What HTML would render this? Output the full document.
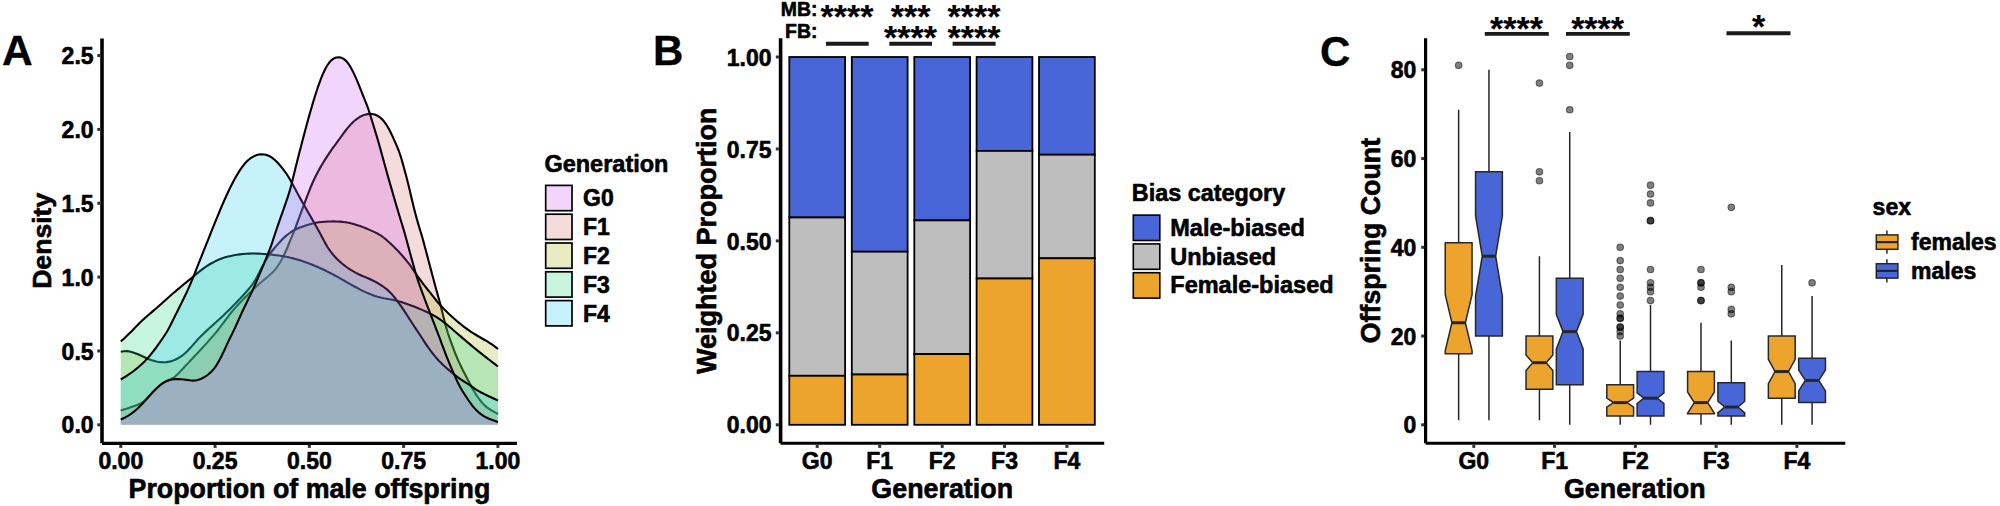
<!DOCTYPE html>
<html lang="en"><head><meta charset="utf-8"><title>Figure</title>
<style>html,body{margin:0;padding:0;background:#fff}svg{display:block}text{stroke:#000;stroke-width:0.6px;stroke-linejoin:round}text.st{stroke-width:0.2px}text.tag{stroke-width:0.3px}</style></head>
<body>
<svg width="2000" height="506" viewBox="0 0 2000 506" font-family="'Liberation Sans', sans-serif" font-weight="bold" fill="#000">
<rect width="2000" height="506" fill="#fff"/>
<g id="panelA">
<path d="M120.80 410.50 L123.66 409.59 L126.51 408.66 L129.36 407.72 L132.21 406.77 L135.04 405.80 L137.85 404.76 L140.56 403.53 L143.10 402.01 L145.41 400.16 L147.50 398.05 L149.49 395.81 L151.49 393.58 L153.54 391.39 L155.64 389.26 L157.82 387.20 L160.10 385.27 L162.50 383.48 L165.02 381.88 L167.65 380.52 L170.36 379.33 L172.97 378.00 L175.36 376.31 L177.55 374.30 L179.64 372.16 L181.69 369.97 L183.73 367.77 L185.77 365.57 L187.81 363.37 L189.85 361.17 L191.90 358.98 L193.96 356.80 L196.02 354.62 L198.08 352.44 L200.14 350.25 L202.18 348.06 L204.21 345.85 L206.23 343.63 L208.23 341.40 L210.22 339.15 L212.20 336.90 L214.15 334.62 L216.07 332.31 L217.96 329.99 L219.82 327.63 L221.63 325.24 L223.42 322.83 L225.21 320.42 L227.00 318.02 L228.81 315.63 L230.66 313.26 L232.55 310.94 L234.50 308.65 L236.49 306.41 L238.53 304.21 L240.59 302.04 L242.69 299.89 L244.80 297.76 L246.94 295.65 L249.08 293.56 L251.24 291.47 L253.40 289.39 L255.57 287.32 L257.76 285.27 L259.98 283.26 L262.25 281.29 L264.55 279.37 L266.86 277.46 L269.16 275.53 L271.39 273.53 L273.51 271.42 L275.47 269.17 L277.27 266.78 L278.92 264.29 L280.45 261.71 L281.88 259.08 L283.26 256.41 L284.60 253.73 L285.89 251.02 L287.10 248.28 L288.24 245.51 L289.35 242.72 L290.48 239.94 L291.63 237.17 L292.78 234.40 L293.92 231.62 L295.01 228.83 L296.07 226.03 L297.11 223.21 L298.13 220.39 L299.17 217.57 L300.21 214.76 L301.25 211.95 L302.30 209.14 L303.36 206.33 L304.42 203.52 L305.48 200.72 L306.54 197.91 L307.59 195.10 L308.66 192.30 L309.75 189.51 L310.88 186.73 L312.06 183.97 L313.28 181.23 L314.56 178.52 L315.88 175.82 L317.24 173.15 L318.65 170.50 L320.11 167.88 L321.61 165.28 L323.15 162.71 L324.73 160.16 L326.34 157.63 L327.97 155.11 L329.63 152.61 L331.32 150.14 L333.06 147.69 L334.83 145.27 L336.61 142.86 L338.38 140.43 L340.14 138.00 L341.89 135.57 L343.66 133.14 L345.47 130.76 L347.34 128.41 L349.26 126.11 L351.27 123.89 L353.38 121.77 L355.63 119.81 L358.04 118.04 L360.60 116.52 L363.30 115.29 L366.12 114.38 L369.02 113.88 L371.93 113.91 L374.77 114.54 L377.45 115.72 L379.92 117.33 L382.12 119.31 L384.08 121.55 L385.83 123.96 L387.44 126.49 L388.92 129.09 L390.32 131.74 L391.65 134.43 L392.91 137.15 L394.13 139.89 L395.33 142.64 L396.52 145.39 L397.68 148.16 L398.80 150.94 L399.83 153.76 L400.79 156.60 L401.66 159.47 L402.47 162.35 L403.26 165.25 L404.05 168.14 L404.83 171.04 L405.62 173.93 L406.39 176.83 L407.15 179.73 L407.89 182.64 L408.61 185.56 L409.30 188.47 L409.99 191.39 L410.67 194.32 L411.35 197.24 L412.05 200.16 L412.75 203.07 L413.46 205.99 L414.19 208.90 L414.92 211.81 L415.68 214.71 L416.45 217.61 L417.25 220.50 L418.07 223.38 L418.92 226.26 L419.79 229.13 L420.69 231.99 L421.57 234.85 L422.40 237.73 L423.20 240.62 L423.98 243.52 L424.76 246.42 L425.53 249.32 L426.30 252.22 L427.07 255.12 L427.84 258.02 L428.60 260.92 L429.37 263.82 L430.14 266.72 L430.91 269.62 L431.68 272.52 L432.45 275.42 L433.22 278.32 L433.99 281.21 L434.77 284.11 L435.55 287.01 L436.34 289.90 L437.15 292.79 L437.96 295.68 L438.77 298.57 L439.56 301.46 L440.33 304.36 L441.07 307.27 L441.80 310.18 L442.52 313.09 L443.24 316.00 L443.98 318.91 L444.73 321.82 L445.48 324.72 L446.27 327.61 L447.10 330.49 L447.99 333.36 L448.94 336.20 L449.92 339.04 L450.93 341.86 L451.95 344.68 L453.00 347.49 L454.07 350.30 L455.16 353.09 L456.29 355.87 L457.45 358.64 L458.66 361.38 L459.91 364.11 L461.20 366.81 L462.53 369.50 L463.89 372.18 L465.27 374.84 L466.65 377.50 L468.04 380.17 L469.41 382.83 L470.79 385.50 L472.19 388.15 L473.68 390.75 L475.26 393.30 L476.91 395.80 L478.62 398.26 L480.41 400.66 L482.32 402.97 L484.38 405.12 L486.63 407.08 L489.05 408.82 L491.58 410.38 L494.12 411.82 L496.50 413.16 L498.00 414.00 L498.00 424.80 L120.80 424.80 Z" fill="rgb(220,110,113)" fill-opacity="0.2457" stroke="none"/>
<path d="M120.80 410.50 L123.66 409.59 L126.51 408.66 L129.36 407.72 L132.21 406.77 L135.04 405.80 L137.85 404.76 L140.56 403.53 L143.10 402.01 L145.41 400.16 L147.50 398.05 L149.49 395.81 L151.49 393.58 L153.54 391.39 L155.64 389.26 L157.82 387.20 L160.10 385.27 L162.50 383.48 L165.02 381.88 L167.65 380.52 L170.36 379.33 L172.97 378.00 L175.36 376.31 L177.55 374.30 L179.64 372.16 L181.69 369.97 L183.73 367.77 L185.77 365.57 L187.81 363.37 L189.85 361.17 L191.90 358.98 L193.96 356.80 L196.02 354.62 L198.08 352.44 L200.14 350.25 L202.18 348.06 L204.21 345.85 L206.23 343.63 L208.23 341.40 L210.22 339.15 L212.20 336.90 L214.15 334.62 L216.07 332.31 L217.96 329.99 L219.82 327.63 L221.63 325.24 L223.42 322.83 L225.21 320.42 L227.00 318.02 L228.81 315.63 L230.66 313.26 L232.55 310.94 L234.50 308.65 L236.49 306.41 L238.53 304.21 L240.59 302.04 L242.69 299.89 L244.80 297.76 L246.94 295.65 L249.08 293.56 L251.24 291.47 L253.40 289.39 L255.57 287.32 L257.76 285.27 L259.98 283.26 L262.25 281.29 L264.55 279.37 L266.86 277.46 L269.16 275.53 L271.39 273.53 L273.51 271.42 L275.47 269.17 L277.27 266.78 L278.92 264.29 L280.45 261.71 L281.88 259.08 L283.26 256.41 L284.60 253.73 L285.89 251.02 L287.10 248.28 L288.24 245.51 L289.35 242.72 L290.48 239.94 L291.63 237.17 L292.78 234.40 L293.92 231.62 L295.01 228.83 L296.07 226.03 L297.11 223.21 L298.13 220.39 L299.17 217.57 L300.21 214.76 L301.25 211.95 L302.30 209.14 L303.36 206.33 L304.42 203.52 L305.48 200.72 L306.54 197.91 L307.59 195.10 L308.66 192.30 L309.75 189.51 L310.88 186.73 L312.06 183.97 L313.28 181.23 L314.56 178.52 L315.88 175.82 L317.24 173.15 L318.65 170.50 L320.11 167.88 L321.61 165.28 L323.15 162.71 L324.73 160.16 L326.34 157.63 L327.97 155.11 L329.63 152.61 L331.32 150.14 L333.06 147.69 L334.83 145.27 L336.61 142.86 L338.38 140.43 L340.14 138.00 L341.89 135.57 L343.66 133.14 L345.47 130.76 L347.34 128.41 L349.26 126.11 L351.27 123.89 L353.38 121.77 L355.63 119.81 L358.04 118.04 L360.60 116.52 L363.30 115.29 L366.12 114.38 L369.02 113.88 L371.93 113.91 L374.77 114.54 L377.45 115.72 L379.92 117.33 L382.12 119.31 L384.08 121.55 L385.83 123.96 L387.44 126.49 L388.92 129.09 L390.32 131.74 L391.65 134.43 L392.91 137.15 L394.13 139.89 L395.33 142.64 L396.52 145.39 L397.68 148.16 L398.80 150.94 L399.83 153.76 L400.79 156.60 L401.66 159.47 L402.47 162.35 L403.26 165.25 L404.05 168.14 L404.83 171.04 L405.62 173.93 L406.39 176.83 L407.15 179.73 L407.89 182.64 L408.61 185.56 L409.30 188.47 L409.99 191.39 L410.67 194.32 L411.35 197.24 L412.05 200.16 L412.75 203.07 L413.46 205.99 L414.19 208.90 L414.92 211.81 L415.68 214.71 L416.45 217.61 L417.25 220.50 L418.07 223.38 L418.92 226.26 L419.79 229.13 L420.69 231.99 L421.57 234.85 L422.40 237.73 L423.20 240.62 L423.98 243.52 L424.76 246.42 L425.53 249.32 L426.30 252.22 L427.07 255.12 L427.84 258.02 L428.60 260.92 L429.37 263.82 L430.14 266.72 L430.91 269.62 L431.68 272.52 L432.45 275.42 L433.22 278.32 L433.99 281.21 L434.77 284.11 L435.55 287.01 L436.34 289.90 L437.15 292.79 L437.96 295.68 L438.77 298.57 L439.56 301.46 L440.33 304.36 L441.07 307.27 L441.80 310.18 L442.52 313.09 L443.24 316.00 L443.98 318.91 L444.73 321.82 L445.48 324.72 L446.27 327.61 L447.10 330.49 L447.99 333.36 L448.94 336.20 L449.92 339.04 L450.93 341.86 L451.95 344.68 L453.00 347.49 L454.07 350.30 L455.16 353.09 L456.29 355.87 L457.45 358.64 L458.66 361.38 L459.91 364.11 L461.20 366.81 L462.53 369.50 L463.89 372.18 L465.27 374.84 L466.65 377.50 L468.04 380.17 L469.41 382.83 L470.79 385.50 L472.19 388.15 L473.68 390.75 L475.26 393.30 L476.91 395.80 L478.62 398.26 L480.41 400.66 L482.32 402.97 L484.38 405.12 L486.63 407.08 L489.05 408.82 L491.58 410.38 L494.12 411.82 L496.50 413.16 L498.00 414.00" fill="none" stroke="#000" stroke-width="2.1" stroke-linejoin="round"/>
<path d="M120.80 351.80 L123.73 351.31 L126.66 351.14 L129.58 351.46 L132.45 352.19 L135.28 353.16 L138.06 354.26 L140.81 355.47 L143.51 356.75 L146.22 358.04 L148.96 359.22 L151.78 360.24 L154.65 361.09 L157.56 361.75 L160.51 362.17 L163.49 362.30 L166.46 362.14 L169.40 361.66 L172.27 360.88 L175.05 359.80 L177.72 358.48 L180.28 356.94 L182.71 355.20 L185.01 353.29 L187.18 351.24 L189.26 349.08 L191.28 346.86 L193.26 344.61 L195.21 342.33 L197.18 340.07 L199.22 337.87 L201.33 335.75 L203.49 333.67 L205.69 331.63 L207.90 329.60 L210.12 327.58 L212.34 325.56 L214.56 323.55 L216.77 321.52 L218.98 319.50 L221.19 317.46 L223.37 315.41 L225.55 313.34 L227.70 311.25 L229.84 309.14 L231.95 307.02 L234.06 304.88 L236.15 302.73 L238.23 300.57 L240.29 298.39 L242.34 296.20 L244.36 293.98 L246.36 291.74 L248.31 289.47 L250.22 287.15 L252.05 284.78 L253.78 282.33 L255.38 279.81 L256.86 277.20 L258.24 274.54 L259.57 271.85 L260.92 269.18 L262.33 266.53 L263.79 263.91 L265.28 261.31 L266.80 258.72 L268.38 256.17 L270.03 253.67 L271.81 251.27 L273.71 248.96 L275.67 246.68 L277.64 244.42 L279.63 242.18 L281.66 239.97 L283.77 237.85 L285.99 235.85 L288.33 233.99 L290.78 232.25 L293.30 230.65 L295.93 229.23 L298.66 228.00 L301.45 226.93 L304.29 225.98 L307.15 225.08 L310.02 224.21 L312.91 223.42 L315.83 222.78 L318.79 222.31 L321.77 221.98 L324.76 221.73 L327.75 221.55 L330.75 221.43 L333.74 221.40 L336.74 221.47 L339.73 221.64 L342.72 221.92 L345.69 222.31 L348.64 222.82 L351.56 223.47 L354.46 224.25 L357.32 225.14 L360.16 226.10 L362.97 227.13 L365.77 228.23 L368.53 229.39 L371.28 230.60 L374.00 231.85 L376.69 233.18 L379.30 234.63 L381.82 236.24 L384.23 238.01 L386.54 239.92 L388.78 241.91 L390.98 243.95 L393.15 246.02 L395.29 248.13 L397.39 250.27 L399.44 252.45 L401.45 254.68 L403.42 256.94 L405.35 259.24 L407.25 261.56 L409.10 263.92 L410.88 266.33 L412.58 268.80 L414.24 271.30 L415.91 273.79 L417.62 276.25 L419.36 278.70 L421.13 281.12 L422.92 283.53 L424.74 285.91 L426.59 288.27 L428.46 290.62 L430.34 292.96 L432.21 295.30 L434.07 297.65 L435.93 300.00 L437.82 302.33 L439.77 304.62 L441.78 306.83 L443.87 308.99 L446.01 311.09 L448.19 313.15 L450.38 315.20 L452.60 317.22 L454.83 319.22 L457.10 321.18 L459.40 323.11 L461.74 324.99 L464.11 326.82 L466.52 328.61 L468.96 330.35 L471.44 332.04 L473.95 333.67 L476.51 335.24 L479.09 336.76 L481.70 338.24 L484.32 339.71 L486.91 341.21 L489.47 342.78 L491.95 344.44 L494.33 346.17 L496.57 347.88 L498.00 349.00 L498.00 424.80 L120.80 424.80 Z" fill="rgb(161,175,13)" fill-opacity="0.2457" stroke="none"/>
<path d="M120.80 351.80 L123.73 351.31 L126.66 351.14 L129.58 351.46 L132.45 352.19 L135.28 353.16 L138.06 354.26 L140.81 355.47 L143.51 356.75 L146.22 358.04 L148.96 359.22 L151.78 360.24 L154.65 361.09 L157.56 361.75 L160.51 362.17 L163.49 362.30 L166.46 362.14 L169.40 361.66 L172.27 360.88 L175.05 359.80 L177.72 358.48 L180.28 356.94 L182.71 355.20 L185.01 353.29 L187.18 351.24 L189.26 349.08 L191.28 346.86 L193.26 344.61 L195.21 342.33 L197.18 340.07 L199.22 337.87 L201.33 335.75 L203.49 333.67 L205.69 331.63 L207.90 329.60 L210.12 327.58 L212.34 325.56 L214.56 323.55 L216.77 321.52 L218.98 319.50 L221.19 317.46 L223.37 315.41 L225.55 313.34 L227.70 311.25 L229.84 309.14 L231.95 307.02 L234.06 304.88 L236.15 302.73 L238.23 300.57 L240.29 298.39 L242.34 296.20 L244.36 293.98 L246.36 291.74 L248.31 289.47 L250.22 287.15 L252.05 284.78 L253.78 282.33 L255.38 279.81 L256.86 277.20 L258.24 274.54 L259.57 271.85 L260.92 269.18 L262.33 266.53 L263.79 263.91 L265.28 261.31 L266.80 258.72 L268.38 256.17 L270.03 253.67 L271.81 251.27 L273.71 248.96 L275.67 246.68 L277.64 244.42 L279.63 242.18 L281.66 239.97 L283.77 237.85 L285.99 235.85 L288.33 233.99 L290.78 232.25 L293.30 230.65 L295.93 229.23 L298.66 228.00 L301.45 226.93 L304.29 225.98 L307.15 225.08 L310.02 224.21 L312.91 223.42 L315.83 222.78 L318.79 222.31 L321.77 221.98 L324.76 221.73 L327.75 221.55 L330.75 221.43 L333.74 221.40 L336.74 221.47 L339.73 221.64 L342.72 221.92 L345.69 222.31 L348.64 222.82 L351.56 223.47 L354.46 224.25 L357.32 225.14 L360.16 226.10 L362.97 227.13 L365.77 228.23 L368.53 229.39 L371.28 230.60 L374.00 231.85 L376.69 233.18 L379.30 234.63 L381.82 236.24 L384.23 238.01 L386.54 239.92 L388.78 241.91 L390.98 243.95 L393.15 246.02 L395.29 248.13 L397.39 250.27 L399.44 252.45 L401.45 254.68 L403.42 256.94 L405.35 259.24 L407.25 261.56 L409.10 263.92 L410.88 266.33 L412.58 268.80 L414.24 271.30 L415.91 273.79 L417.62 276.25 L419.36 278.70 L421.13 281.12 L422.92 283.53 L424.74 285.91 L426.59 288.27 L428.46 290.62 L430.34 292.96 L432.21 295.30 L434.07 297.65 L435.93 300.00 L437.82 302.33 L439.77 304.62 L441.78 306.83 L443.87 308.99 L446.01 311.09 L448.19 313.15 L450.38 315.20 L452.60 317.22 L454.83 319.22 L457.10 321.18 L459.40 323.11 L461.74 324.99 L464.11 326.82 L466.52 328.61 L468.96 330.35 L471.44 332.04 L473.95 333.67 L476.51 335.24 L479.09 336.76 L481.70 338.24 L484.32 339.71 L486.91 341.21 L489.47 342.78 L491.95 344.44 L494.33 346.17 L496.57 347.88 L498.00 349.00" fill="none" stroke="#000" stroke-width="2.1" stroke-linejoin="round"/>
<path d="M120.80 341.50 L122.99 339.45 L125.18 337.40 L127.37 335.35 L129.55 333.29 L131.70 331.20 L133.79 329.05 L135.84 326.86 L137.90 324.69 L140.02 322.58 L142.22 320.53 L144.45 318.53 L146.71 316.55 L148.97 314.58 L151.23 312.61 L153.50 310.65 L155.77 308.68 L158.03 306.71 L160.28 304.73 L162.52 302.73 L164.75 300.72 L166.97 298.71 L169.21 296.72 L171.47 294.75 L173.75 292.79 L176.04 290.85 L178.33 288.91 L180.63 286.99 L182.93 285.06 L185.24 283.15 L187.56 281.24 L189.88 279.34 L192.20 277.45 L194.53 275.55 L196.84 273.64 L199.16 271.74 L201.50 269.87 L203.90 268.07 L206.36 266.36 L208.89 264.76 L211.48 263.24 L214.12 261.82 L216.81 260.50 L219.55 259.30 L222.35 258.25 L225.21 257.35 L228.10 256.58 L231.03 255.92 L233.97 255.34 L236.93 254.83 L239.89 254.39 L242.87 254.03 L245.86 253.77 L248.85 253.61 L251.85 253.54 L254.84 253.56 L257.84 253.65 L260.84 253.80 L263.83 253.99 L266.82 254.23 L269.81 254.51 L272.79 254.83 L275.77 255.19 L278.74 255.58 L281.71 256.03 L284.67 256.52 L287.61 257.07 L290.55 257.69 L293.46 258.39 L296.35 259.18 L299.22 260.06 L302.07 261.00 L304.90 261.99 L307.72 263.01 L310.53 264.07 L313.32 265.18 L316.09 266.33 L318.84 267.52 L321.57 268.76 L324.28 270.04 L326.97 271.36 L329.65 272.71 L332.31 274.10 L334.96 275.51 L337.59 276.95 L340.21 278.42 L342.81 279.90 L345.42 281.40 L348.02 282.88 L350.64 284.35 L353.26 285.81 L355.88 287.27 L358.52 288.70 L361.17 290.09 L363.87 291.40 L366.60 292.64 L369.36 293.81 L372.16 294.89 L374.98 295.89 L377.84 296.79 L380.73 297.58 L383.65 298.24 L386.60 298.80 L389.55 299.31 L392.50 299.85 L395.43 300.47 L398.34 301.20 L401.22 302.04 L404.07 302.96 L406.91 303.93 L409.74 304.93 L412.55 305.98 L415.34 307.08 L418.11 308.22 L420.88 309.39 L423.63 310.59 L426.36 311.82 L429.07 313.11 L431.74 314.46 L434.37 315.90 L436.95 317.43 L439.47 319.05 L441.93 320.76 L444.33 322.56 L446.67 324.44 L448.96 326.37 L451.23 328.33 L453.50 330.29 L455.78 332.25 L458.06 334.20 L460.34 336.14 L462.62 338.09 L464.91 340.03 L467.19 341.98 L469.48 343.92 L471.78 345.85 L474.08 347.77 L476.40 349.67 L478.73 351.56 L481.07 353.43 L483.43 355.29 L485.80 357.13 L488.18 358.96 L490.56 360.78 L492.92 362.59 L495.19 364.34 L497.32 365.97 L498.00 366.50 L498.00 424.80 L120.80 424.80 Z" fill="rgb(29,214,129)" fill-opacity="0.2457" stroke="none"/>
<path d="M120.80 341.50 L122.99 339.45 L125.18 337.40 L127.37 335.35 L129.55 333.29 L131.70 331.20 L133.79 329.05 L135.84 326.86 L137.90 324.69 L140.02 322.58 L142.22 320.53 L144.45 318.53 L146.71 316.55 L148.97 314.58 L151.23 312.61 L153.50 310.65 L155.77 308.68 L158.03 306.71 L160.28 304.73 L162.52 302.73 L164.75 300.72 L166.97 298.71 L169.21 296.72 L171.47 294.75 L173.75 292.79 L176.04 290.85 L178.33 288.91 L180.63 286.99 L182.93 285.06 L185.24 283.15 L187.56 281.24 L189.88 279.34 L192.20 277.45 L194.53 275.55 L196.84 273.64 L199.16 271.74 L201.50 269.87 L203.90 268.07 L206.36 266.36 L208.89 264.76 L211.48 263.24 L214.12 261.82 L216.81 260.50 L219.55 259.30 L222.35 258.25 L225.21 257.35 L228.10 256.58 L231.03 255.92 L233.97 255.34 L236.93 254.83 L239.89 254.39 L242.87 254.03 L245.86 253.77 L248.85 253.61 L251.85 253.54 L254.84 253.56 L257.84 253.65 L260.84 253.80 L263.83 253.99 L266.82 254.23 L269.81 254.51 L272.79 254.83 L275.77 255.19 L278.74 255.58 L281.71 256.03 L284.67 256.52 L287.61 257.07 L290.55 257.69 L293.46 258.39 L296.35 259.18 L299.22 260.06 L302.07 261.00 L304.90 261.99 L307.72 263.01 L310.53 264.07 L313.32 265.18 L316.09 266.33 L318.84 267.52 L321.57 268.76 L324.28 270.04 L326.97 271.36 L329.65 272.71 L332.31 274.10 L334.96 275.51 L337.59 276.95 L340.21 278.42 L342.81 279.90 L345.42 281.40 L348.02 282.88 L350.64 284.35 L353.26 285.81 L355.88 287.27 L358.52 288.70 L361.17 290.09 L363.87 291.40 L366.60 292.64 L369.36 293.81 L372.16 294.89 L374.98 295.89 L377.84 296.79 L380.73 297.58 L383.65 298.24 L386.60 298.80 L389.55 299.31 L392.50 299.85 L395.43 300.47 L398.34 301.20 L401.22 302.04 L404.07 302.96 L406.91 303.93 L409.74 304.93 L412.55 305.98 L415.34 307.08 L418.11 308.22 L420.88 309.39 L423.63 310.59 L426.36 311.82 L429.07 313.11 L431.74 314.46 L434.37 315.90 L436.95 317.43 L439.47 319.05 L441.93 320.76 L444.33 322.56 L446.67 324.44 L448.96 326.37 L451.23 328.33 L453.50 330.29 L455.78 332.25 L458.06 334.20 L460.34 336.14 L462.62 338.09 L464.91 340.03 L467.19 341.98 L469.48 343.92 L471.78 345.85 L474.08 347.77 L476.40 349.67 L478.73 351.56 L481.07 353.43 L483.43 355.29 L485.80 357.13 L488.18 358.96 L490.56 360.78 L492.92 362.59 L495.19 364.34 L497.32 365.97 L498.00 366.50" fill="none" stroke="#000" stroke-width="2.1" stroke-linejoin="round"/>
<path d="M120.80 379.50 L123.37 377.95 L125.91 376.36 L128.42 374.72 L130.88 373.01 L133.30 371.24 L135.66 369.39 L137.97 367.47 L140.23 365.50 L142.44 363.48 L144.59 361.39 L146.67 359.24 L148.68 357.01 L150.61 354.71 L152.48 352.37 L154.31 349.99 L156.10 347.58 L157.86 345.16 L159.60 342.71 L161.31 340.25 L162.99 337.76 L164.64 335.26 L166.25 332.73 L167.80 330.17 L169.26 327.55 L170.62 324.88 L171.94 322.19 L173.27 319.50 L174.61 316.81 L175.96 314.13 L177.30 311.45 L178.65 308.77 L179.98 306.08 L181.31 303.39 L182.63 300.70 L183.95 298.01 L185.26 295.31 L186.55 292.60 L187.81 289.88 L189.04 287.14 L190.23 284.39 L191.40 281.62 L192.53 278.85 L193.65 276.06 L194.76 273.28 L195.86 270.49 L196.96 267.69 L198.06 264.90 L199.17 262.11 L200.27 259.33 L201.38 256.54 L202.50 253.75 L203.61 250.97 L204.73 248.18 L205.84 245.40 L206.95 242.61 L208.07 239.83 L209.18 237.04 L210.29 234.25 L211.40 231.46 L212.51 228.68 L213.62 225.89 L214.74 223.11 L215.87 220.33 L217.01 217.55 L218.15 214.78 L219.30 212.01 L220.46 209.24 L221.63 206.48 L222.82 203.73 L224.02 200.98 L225.25 198.24 L226.48 195.51 L227.74 192.78 L229.02 190.07 L230.33 187.37 L231.68 184.69 L233.06 182.03 L234.47 179.38 L235.93 176.76 L237.45 174.17 L239.02 171.62 L240.67 169.12 L242.41 166.68 L244.24 164.31 L246.21 162.06 L248.35 159.99 L250.69 158.15 L253.21 156.59 L255.90 155.36 L258.73 154.57 L261.64 154.31 L264.57 154.56 L267.42 155.29 L270.10 156.48 L272.58 158.09 L274.86 159.99 L277.01 162.08 L279.05 164.27 L281.01 166.54 L282.88 168.88 L284.69 171.27 L286.41 173.73 L288.04 176.24 L289.59 178.81 L291.09 181.41 L292.54 184.03 L293.97 186.67 L295.38 189.32 L296.78 191.97 L298.19 194.62 L299.62 197.26 L301.07 199.88 L302.54 202.50 L304.03 205.10 L305.52 207.70 L307.02 210.30 L308.51 212.90 L310.01 215.51 L311.50 218.11 L312.99 220.71 L314.47 223.32 L315.95 225.93 L317.42 228.54 L318.88 231.16 L320.32 233.80 L321.73 236.44 L323.12 239.10 L324.52 241.76 L325.95 244.39 L327.48 246.97 L329.12 249.47 L330.88 251.90 L332.75 254.24 L334.71 256.50 L336.77 258.68 L338.91 260.77 L341.14 262.78 L343.44 264.69 L345.82 266.52 L348.26 268.26 L350.76 269.91 L353.33 271.45 L355.96 272.89 L358.65 274.21 L361.38 275.44 L364.13 276.64 L366.89 277.83 L369.63 279.04 L372.36 280.29 L375.05 281.61 L377.68 283.04 L380.24 284.60 L382.73 286.26 L385.15 288.03 L387.48 289.90 L389.69 291.92 L391.75 294.09 L393.68 296.37 L395.53 298.73 L397.34 301.13 L399.11 303.55 L400.86 305.98 L402.57 308.45 L404.25 310.93 L405.91 313.43 L407.53 315.96 L409.14 318.49 L410.75 321.02 L412.38 323.54 L414.02 326.05 L415.68 328.55 L417.35 331.04 L419.01 333.54 L420.67 336.04 L422.31 338.55 L423.95 341.06 L425.60 343.57 L427.27 346.06 L428.99 348.51 L430.76 350.94 L432.58 353.31 L434.46 355.65 L436.40 357.94 L438.39 360.18 L440.45 362.36 L442.59 364.46 L444.79 366.50 L447.04 368.47 L449.32 370.42 L451.62 372.36 L453.93 374.27 L456.28 376.14 L458.67 377.94 L461.14 379.64 L463.67 381.24 L466.23 382.80 L468.77 384.39 L471.23 386.09 L473.65 387.84 L476.11 389.53 L478.67 391.09 L481.29 392.54 L483.95 393.93 L486.64 395.26 L489.34 396.54 L492.05 397.79 L494.69 398.99 L497.19 400.13 L498.00 400.50 L498.00 424.80 L120.80 424.80 Z" fill="rgb(30,197,240)" fill-opacity="0.2457" stroke="none"/>
<path d="M120.80 379.50 L123.37 377.95 L125.91 376.36 L128.42 374.72 L130.88 373.01 L133.30 371.24 L135.66 369.39 L137.97 367.47 L140.23 365.50 L142.44 363.48 L144.59 361.39 L146.67 359.24 L148.68 357.01 L150.61 354.71 L152.48 352.37 L154.31 349.99 L156.10 347.58 L157.86 345.16 L159.60 342.71 L161.31 340.25 L162.99 337.76 L164.64 335.26 L166.25 332.73 L167.80 330.17 L169.26 327.55 L170.62 324.88 L171.94 322.19 L173.27 319.50 L174.61 316.81 L175.96 314.13 L177.30 311.45 L178.65 308.77 L179.98 306.08 L181.31 303.39 L182.63 300.70 L183.95 298.01 L185.26 295.31 L186.55 292.60 L187.81 289.88 L189.04 287.14 L190.23 284.39 L191.40 281.62 L192.53 278.85 L193.65 276.06 L194.76 273.28 L195.86 270.49 L196.96 267.69 L198.06 264.90 L199.17 262.11 L200.27 259.33 L201.38 256.54 L202.50 253.75 L203.61 250.97 L204.73 248.18 L205.84 245.40 L206.95 242.61 L208.07 239.83 L209.18 237.04 L210.29 234.25 L211.40 231.46 L212.51 228.68 L213.62 225.89 L214.74 223.11 L215.87 220.33 L217.01 217.55 L218.15 214.78 L219.30 212.01 L220.46 209.24 L221.63 206.48 L222.82 203.73 L224.02 200.98 L225.25 198.24 L226.48 195.51 L227.74 192.78 L229.02 190.07 L230.33 187.37 L231.68 184.69 L233.06 182.03 L234.47 179.38 L235.93 176.76 L237.45 174.17 L239.02 171.62 L240.67 169.12 L242.41 166.68 L244.24 164.31 L246.21 162.06 L248.35 159.99 L250.69 158.15 L253.21 156.59 L255.90 155.36 L258.73 154.57 L261.64 154.31 L264.57 154.56 L267.42 155.29 L270.10 156.48 L272.58 158.09 L274.86 159.99 L277.01 162.08 L279.05 164.27 L281.01 166.54 L282.88 168.88 L284.69 171.27 L286.41 173.73 L288.04 176.24 L289.59 178.81 L291.09 181.41 L292.54 184.03 L293.97 186.67 L295.38 189.32 L296.78 191.97 L298.19 194.62 L299.62 197.26 L301.07 199.88 L302.54 202.50 L304.03 205.10 L305.52 207.70 L307.02 210.30 L308.51 212.90 L310.01 215.51 L311.50 218.11 L312.99 220.71 L314.47 223.32 L315.95 225.93 L317.42 228.54 L318.88 231.16 L320.32 233.80 L321.73 236.44 L323.12 239.10 L324.52 241.76 L325.95 244.39 L327.48 246.97 L329.12 249.47 L330.88 251.90 L332.75 254.24 L334.71 256.50 L336.77 258.68 L338.91 260.77 L341.14 262.78 L343.44 264.69 L345.82 266.52 L348.26 268.26 L350.76 269.91 L353.33 271.45 L355.96 272.89 L358.65 274.21 L361.38 275.44 L364.13 276.64 L366.89 277.83 L369.63 279.04 L372.36 280.29 L375.05 281.61 L377.68 283.04 L380.24 284.60 L382.73 286.26 L385.15 288.03 L387.48 289.90 L389.69 291.92 L391.75 294.09 L393.68 296.37 L395.53 298.73 L397.34 301.13 L399.11 303.55 L400.86 305.98 L402.57 308.45 L404.25 310.93 L405.91 313.43 L407.53 315.96 L409.14 318.49 L410.75 321.02 L412.38 323.54 L414.02 326.05 L415.68 328.55 L417.35 331.04 L419.01 333.54 L420.67 336.04 L422.31 338.55 L423.95 341.06 L425.60 343.57 L427.27 346.06 L428.99 348.51 L430.76 350.94 L432.58 353.31 L434.46 355.65 L436.40 357.94 L438.39 360.18 L440.45 362.36 L442.59 364.46 L444.79 366.50 L447.04 368.47 L449.32 370.42 L451.62 372.36 L453.93 374.27 L456.28 376.14 L458.67 377.94 L461.14 379.64 L463.67 381.24 L466.23 382.80 L468.77 384.39 L471.23 386.09 L473.65 387.84 L476.11 389.53 L478.67 391.09 L481.29 392.54 L483.95 393.93 L486.64 395.26 L489.34 396.54 L492.05 397.79 L494.69 398.99 L497.19 400.13 L498.00 400.50" fill="none" stroke="#000" stroke-width="2.1" stroke-linejoin="round"/>
<path d="M120.80 419.50 L123.50 418.20 L126.16 416.83 L128.75 415.32 L131.25 413.68 L133.66 411.91 L135.96 409.99 L138.16 407.96 L140.28 405.83 L142.34 403.66 L144.37 401.45 L146.37 399.21 L148.36 396.97 L150.37 394.74 L152.41 392.54 L154.49 390.38 L156.63 388.28 L158.85 386.27 L161.17 384.38 L163.61 382.67 L166.20 381.23 L168.95 380.15 L171.83 379.49 L174.79 379.16 L177.77 379.09 L180.77 379.21 L183.75 379.47 L186.72 379.86 L189.67 380.30 L192.63 380.59 L195.55 380.47 L198.41 379.83 L201.17 378.76 L203.82 377.39 L206.34 375.80 L208.74 374.02 L210.97 372.04 L213.02 369.88 L214.87 367.54 L216.54 365.06 L218.09 362.49 L219.55 359.87 L220.94 357.22 L222.28 354.53 L223.58 351.83 L224.85 349.11 L226.10 346.38 L227.34 343.65 L228.61 340.93 L229.91 338.23 L231.25 335.55 L232.59 332.86 L233.89 330.16 L235.16 327.45 L236.41 324.72 L237.65 321.98 L238.88 319.25 L240.11 316.51 L241.35 313.78 L242.60 311.05 L243.86 308.33 L245.15 305.62 L246.45 302.92 L247.78 300.23 L249.10 297.54 L250.41 294.84 L251.71 292.14 L252.98 289.42 L254.22 286.69 L255.44 283.95 L256.64 281.19 L257.81 278.44 L258.98 275.67 L260.14 272.90 L261.29 270.13 L262.44 267.36 L263.58 264.59 L264.71 261.81 L265.85 259.03 L266.98 256.25 L268.10 253.47 L269.21 250.68 L270.29 247.89 L271.32 245.07 L272.28 242.23 L273.22 239.38 L274.16 236.53 L275.10 233.68 L276.04 230.84 L277.00 227.99 L277.96 225.15 L278.95 222.32 L279.94 219.49 L280.95 216.66 L281.95 213.83 L282.95 211.00 L283.94 208.17 L284.92 205.34 L285.90 202.50 L286.87 199.66 L287.82 196.82 L288.74 193.97 L289.63 191.10 L290.46 188.22 L291.24 185.32 L291.98 182.41 L292.68 179.50 L293.38 176.58 L294.09 173.67 L294.81 170.75 L295.53 167.84 L296.26 164.93 L296.99 162.02 L297.72 159.11 L298.46 156.20 L299.20 153.30 L299.95 150.39 L300.71 147.49 L301.46 144.59 L302.22 141.68 L302.98 138.78 L303.74 135.88 L304.50 132.98 L305.27 130.08 L306.04 127.18 L306.83 124.28 L307.62 121.39 L308.42 118.50 L309.23 115.61 L310.05 112.72 L310.87 109.84 L311.71 106.96 L312.55 104.08 L313.41 101.20 L314.29 98.34 L315.18 95.47 L316.10 92.62 L317.04 89.77 L318.00 86.93 L318.99 84.09 L320.01 81.27 L321.07 78.47 L322.19 75.68 L323.38 72.93 L324.66 70.22 L326.04 67.56 L327.56 64.99 L329.27 62.55 L331.24 60.37 L333.54 58.62 L336.15 57.51 L338.93 57.22 L341.67 57.81 L344.15 59.18 L346.30 61.13 L348.17 63.44 L349.82 65.92 L351.34 68.50 L352.74 71.15 L354.06 73.84 L355.32 76.57 L356.53 79.31 L357.69 82.08 L358.81 84.86 L359.91 87.65 L361.00 90.44 L362.11 93.23 L363.24 96.01 L364.37 98.79 L365.50 101.57 L366.60 104.36 L367.65 107.17 L368.64 110.00 L369.58 112.85 L370.48 115.71 L371.36 118.58 L372.23 121.45 L373.10 124.32 L373.98 127.19 L374.86 130.06 L375.73 132.93 L376.60 135.80 L377.45 138.67 L378.29 141.55 L379.12 144.44 L379.93 147.33 L380.73 150.22 L381.53 153.11 L382.32 156.00 L383.12 158.89 L383.91 161.79 L384.71 164.68 L385.50 167.57 L386.30 170.47 L387.11 173.35 L387.92 176.24 L388.75 179.13 L389.57 182.01 L390.40 184.89 L391.23 187.78 L392.06 190.66 L392.89 193.54 L393.72 196.43 L394.55 199.31 L395.38 202.19 L396.23 205.07 L397.08 207.95 L397.94 210.82 L398.80 213.69 L399.66 216.57 L400.53 219.44 L401.40 222.31 L402.28 225.18 L403.15 228.05 L404.01 230.92 L404.84 233.80 L405.66 236.69 L406.45 239.58 L407.23 242.48 L408.01 245.38 L408.79 248.28 L409.57 251.17 L410.36 254.07 L411.15 256.96 L411.95 259.85 L412.75 262.74 L413.55 265.64 L414.34 268.53 L415.15 271.42 L416.00 274.29 L416.89 277.16 L417.81 280.01 L418.77 282.85 L419.76 285.69 L420.78 288.51 L421.81 291.33 L422.85 294.14 L423.90 296.95 L424.96 299.75 L426.03 302.56 L427.10 305.36 L428.17 308.16 L429.25 310.96 L430.33 313.76 L431.40 316.56 L432.48 319.36 L433.56 322.16 L434.64 324.96 L435.72 327.76 L436.80 330.56 L437.87 333.36 L438.94 336.17 L440.00 338.97 L441.05 341.78 L442.10 344.59 L443.15 347.40 L444.20 350.21 L445.27 353.02 L446.35 355.81 L447.45 358.60 L448.58 361.38 L449.72 364.16 L450.87 366.93 L452.04 369.69 L453.23 372.45 L454.43 375.19 L455.66 377.93 L456.92 380.65 L458.23 383.35 L459.60 386.02 L461.05 388.64 L462.59 391.21 L464.19 393.75 L465.83 396.26 L467.49 398.76 L469.17 401.24 L470.90 403.69 L472.71 406.08 L474.63 408.38 L476.68 410.55 L478.88 412.57 L481.23 414.42 L483.72 416.06 L486.34 417.50 L489.06 418.73 L491.83 419.81 L494.56 420.79 L497.16 421.70 L498.00 422.00 L498.00 424.80 L120.80 424.80 Z" fill="rgb(207,87,240)" fill-opacity="0.2457" stroke="none"/>
<path d="M120.80 419.50 L123.50 418.20 L126.16 416.83 L128.75 415.32 L131.25 413.68 L133.66 411.91 L135.96 409.99 L138.16 407.96 L140.28 405.83 L142.34 403.66 L144.37 401.45 L146.37 399.21 L148.36 396.97 L150.37 394.74 L152.41 392.54 L154.49 390.38 L156.63 388.28 L158.85 386.27 L161.17 384.38 L163.61 382.67 L166.20 381.23 L168.95 380.15 L171.83 379.49 L174.79 379.16 L177.77 379.09 L180.77 379.21 L183.75 379.47 L186.72 379.86 L189.67 380.30 L192.63 380.59 L195.55 380.47 L198.41 379.83 L201.17 378.76 L203.82 377.39 L206.34 375.80 L208.74 374.02 L210.97 372.04 L213.02 369.88 L214.87 367.54 L216.54 365.06 L218.09 362.49 L219.55 359.87 L220.94 357.22 L222.28 354.53 L223.58 351.83 L224.85 349.11 L226.10 346.38 L227.34 343.65 L228.61 340.93 L229.91 338.23 L231.25 335.55 L232.59 332.86 L233.89 330.16 L235.16 327.45 L236.41 324.72 L237.65 321.98 L238.88 319.25 L240.11 316.51 L241.35 313.78 L242.60 311.05 L243.86 308.33 L245.15 305.62 L246.45 302.92 L247.78 300.23 L249.10 297.54 L250.41 294.84 L251.71 292.14 L252.98 289.42 L254.22 286.69 L255.44 283.95 L256.64 281.19 L257.81 278.44 L258.98 275.67 L260.14 272.90 L261.29 270.13 L262.44 267.36 L263.58 264.59 L264.71 261.81 L265.85 259.03 L266.98 256.25 L268.10 253.47 L269.21 250.68 L270.29 247.89 L271.32 245.07 L272.28 242.23 L273.22 239.38 L274.16 236.53 L275.10 233.68 L276.04 230.84 L277.00 227.99 L277.96 225.15 L278.95 222.32 L279.94 219.49 L280.95 216.66 L281.95 213.83 L282.95 211.00 L283.94 208.17 L284.92 205.34 L285.90 202.50 L286.87 199.66 L287.82 196.82 L288.74 193.97 L289.63 191.10 L290.46 188.22 L291.24 185.32 L291.98 182.41 L292.68 179.50 L293.38 176.58 L294.09 173.67 L294.81 170.75 L295.53 167.84 L296.26 164.93 L296.99 162.02 L297.72 159.11 L298.46 156.20 L299.20 153.30 L299.95 150.39 L300.71 147.49 L301.46 144.59 L302.22 141.68 L302.98 138.78 L303.74 135.88 L304.50 132.98 L305.27 130.08 L306.04 127.18 L306.83 124.28 L307.62 121.39 L308.42 118.50 L309.23 115.61 L310.05 112.72 L310.87 109.84 L311.71 106.96 L312.55 104.08 L313.41 101.20 L314.29 98.34 L315.18 95.47 L316.10 92.62 L317.04 89.77 L318.00 86.93 L318.99 84.09 L320.01 81.27 L321.07 78.47 L322.19 75.68 L323.38 72.93 L324.66 70.22 L326.04 67.56 L327.56 64.99 L329.27 62.55 L331.24 60.37 L333.54 58.62 L336.15 57.51 L338.93 57.22 L341.67 57.81 L344.15 59.18 L346.30 61.13 L348.17 63.44 L349.82 65.92 L351.34 68.50 L352.74 71.15 L354.06 73.84 L355.32 76.57 L356.53 79.31 L357.69 82.08 L358.81 84.86 L359.91 87.65 L361.00 90.44 L362.11 93.23 L363.24 96.01 L364.37 98.79 L365.50 101.57 L366.60 104.36 L367.65 107.17 L368.64 110.00 L369.58 112.85 L370.48 115.71 L371.36 118.58 L372.23 121.45 L373.10 124.32 L373.98 127.19 L374.86 130.06 L375.73 132.93 L376.60 135.80 L377.45 138.67 L378.29 141.55 L379.12 144.44 L379.93 147.33 L380.73 150.22 L381.53 153.11 L382.32 156.00 L383.12 158.89 L383.91 161.79 L384.71 164.68 L385.50 167.57 L386.30 170.47 L387.11 173.35 L387.92 176.24 L388.75 179.13 L389.57 182.01 L390.40 184.89 L391.23 187.78 L392.06 190.66 L392.89 193.54 L393.72 196.43 L394.55 199.31 L395.38 202.19 L396.23 205.07 L397.08 207.95 L397.94 210.82 L398.80 213.69 L399.66 216.57 L400.53 219.44 L401.40 222.31 L402.28 225.18 L403.15 228.05 L404.01 230.92 L404.84 233.80 L405.66 236.69 L406.45 239.58 L407.23 242.48 L408.01 245.38 L408.79 248.28 L409.57 251.17 L410.36 254.07 L411.15 256.96 L411.95 259.85 L412.75 262.74 L413.55 265.64 L414.34 268.53 L415.15 271.42 L416.00 274.29 L416.89 277.16 L417.81 280.01 L418.77 282.85 L419.76 285.69 L420.78 288.51 L421.81 291.33 L422.85 294.14 L423.90 296.95 L424.96 299.75 L426.03 302.56 L427.10 305.36 L428.17 308.16 L429.25 310.96 L430.33 313.76 L431.40 316.56 L432.48 319.36 L433.56 322.16 L434.64 324.96 L435.72 327.76 L436.80 330.56 L437.87 333.36 L438.94 336.17 L440.00 338.97 L441.05 341.78 L442.10 344.59 L443.15 347.40 L444.20 350.21 L445.27 353.02 L446.35 355.81 L447.45 358.60 L448.58 361.38 L449.72 364.16 L450.87 366.93 L452.04 369.69 L453.23 372.45 L454.43 375.19 L455.66 377.93 L456.92 380.65 L458.23 383.35 L459.60 386.02 L461.05 388.64 L462.59 391.21 L464.19 393.75 L465.83 396.26 L467.49 398.76 L469.17 401.24 L470.90 403.69 L472.71 406.08 L474.63 408.38 L476.68 410.55 L478.88 412.57 L481.23 414.42 L483.72 416.06 L486.34 417.50 L489.06 418.73 L491.83 419.81 L494.56 420.79 L497.16 421.70 L498.00 422.00" fill="none" stroke="#000" stroke-width="2.1" stroke-linejoin="round"/>
<line x1="102" x2="102" y1="38.4" y2="443.3" stroke="#000" stroke-width="3.6"/><line x1="102" x2="516.9" y1="443.35" y2="443.35" stroke="#000" stroke-width="3.1"/>
<line x1="97.3" x2="100.1" y1="424.80" y2="424.80" stroke="#333" stroke-width="3"/>
<text x="93.6" y="433.40" font-size="23" text-anchor="end">0.0</text>
<line x1="97.3" x2="100.1" y1="350.95" y2="350.95" stroke="#333" stroke-width="3"/>
<text x="93.6" y="359.55" font-size="23" text-anchor="end">0.5</text>
<line x1="97.3" x2="100.1" y1="277.10" y2="277.10" stroke="#333" stroke-width="3"/>
<text x="93.6" y="285.70" font-size="23" text-anchor="end">1.0</text>
<line x1="97.3" x2="100.1" y1="203.25" y2="203.25" stroke="#333" stroke-width="3"/>
<text x="93.6" y="211.85" font-size="23" text-anchor="end">1.5</text>
<line x1="97.3" x2="100.1" y1="129.40" y2="129.40" stroke="#333" stroke-width="3"/>
<text x="93.6" y="138.00" font-size="23" text-anchor="end">2.0</text>
<line x1="97.3" x2="100.1" y1="55.55" y2="55.55" stroke="#333" stroke-width="3"/>
<text x="93.6" y="64.15" font-size="23" text-anchor="end">2.5</text>
<line x1="120.80" x2="120.80" y1="444.8" y2="447.9" stroke="#333" stroke-width="3"/>
<text x="120.80" y="468.8" font-size="23" text-anchor="middle">0.00</text>
<line x1="215.07" x2="215.07" y1="444.8" y2="447.9" stroke="#333" stroke-width="3"/>
<text x="215.07" y="468.8" font-size="23" text-anchor="middle">0.25</text>
<line x1="309.35" x2="309.35" y1="444.8" y2="447.9" stroke="#333" stroke-width="3"/>
<text x="309.35" y="468.8" font-size="23" text-anchor="middle">0.50</text>
<line x1="403.63" x2="403.63" y1="444.8" y2="447.9" stroke="#333" stroke-width="3"/>
<text x="403.63" y="468.8" font-size="23" text-anchor="middle">0.75</text>
<line x1="497.90" x2="497.90" y1="444.8" y2="447.9" stroke="#333" stroke-width="3"/>
<text x="497.90" y="468.8" font-size="23" text-anchor="middle">1.00</text>
<text x="309.4" y="497.8" font-size="26.8" text-anchor="middle">Proportion of male offspring</text>
<text transform="translate(51.2 240.8) rotate(-90)" font-size="26.6" text-anchor="middle">Density</text>
<text x="2.1" y="65.3" font-size="42.5" class="tag">A</text>
<text x="544.4" y="172" font-size="23.5">Generation</text>
<rect x="545.7" y="185.40" width="26.3" height="25.3" fill="rgb(207,87,240)" fill-opacity="0.2457" stroke="#000" stroke-width="1.7"/>
<text x="583" y="206.40" font-size="23">G0</text>
<rect x="545.7" y="214.20" width="26.3" height="25.3" fill="rgb(220,110,113)" fill-opacity="0.2457" stroke="#000" stroke-width="1.7"/>
<text x="583" y="235.20" font-size="23">F1</text>
<rect x="545.7" y="243.00" width="26.3" height="25.3" fill="rgb(161,175,13)" fill-opacity="0.2457" stroke="#000" stroke-width="1.7"/>
<text x="583" y="264.00" font-size="23">F2</text>
<rect x="545.7" y="271.80" width="26.3" height="25.3" fill="rgb(29,214,129)" fill-opacity="0.2457" stroke="#000" stroke-width="1.7"/>
<text x="583" y="292.80" font-size="23">F3</text>
<rect x="545.7" y="300.60" width="26.3" height="25.3" fill="rgb(30,197,240)" fill-opacity="0.2457" stroke="#000" stroke-width="1.7"/>
<text x="583" y="321.60" font-size="23">F4</text>
</g>
<g id="panelB">
<rect x="789.30" y="57.00" width="55.80" height="160.50" fill="#4966D9" stroke="#000" stroke-width="1.8"/>
<rect x="789.30" y="217.50" width="55.80" height="158.30" fill="#BEBEBE" stroke="#000" stroke-width="1.8"/>
<rect x="789.30" y="375.80" width="55.80" height="49.00" fill="#ECA42D" stroke="#000" stroke-width="1.8"/>
<rect x="851.80" y="57.00" width="55.80" height="194.70" fill="#4966D9" stroke="#000" stroke-width="1.8"/>
<rect x="851.80" y="251.70" width="55.80" height="122.80" fill="#BEBEBE" stroke="#000" stroke-width="1.8"/>
<rect x="851.80" y="374.50" width="55.80" height="50.30" fill="#ECA42D" stroke="#000" stroke-width="1.8"/>
<rect x="914.30" y="57.00" width="55.80" height="163.40" fill="#4966D9" stroke="#000" stroke-width="1.8"/>
<rect x="914.30" y="220.40" width="55.80" height="133.70" fill="#BEBEBE" stroke="#000" stroke-width="1.8"/>
<rect x="914.30" y="354.10" width="55.80" height="70.70" fill="#ECA42D" stroke="#000" stroke-width="1.8"/>
<rect x="976.60" y="57.00" width="55.80" height="93.90" fill="#4966D9" stroke="#000" stroke-width="1.8"/>
<rect x="976.60" y="150.90" width="55.80" height="127.60" fill="#BEBEBE" stroke="#000" stroke-width="1.8"/>
<rect x="976.60" y="278.50" width="55.80" height="146.30" fill="#ECA42D" stroke="#000" stroke-width="1.8"/>
<rect x="1039.00" y="57.00" width="55.80" height="97.70" fill="#4966D9" stroke="#000" stroke-width="1.8"/>
<rect x="1039.00" y="154.70" width="55.80" height="103.60" fill="#BEBEBE" stroke="#000" stroke-width="1.8"/>
<rect x="1039.00" y="258.30" width="55.80" height="166.50" fill="#ECA42D" stroke="#000" stroke-width="1.8"/>
<line x1="780.6" x2="780.6" y1="38.2" y2="443.3" stroke="#000" stroke-width="3.6"/><line x1="780.6" x2="1104.2" y1="443.3" y2="443.3" stroke="#000" stroke-width="3.1"/>
<line x1="775.8" x2="778.9" y1="424.80" y2="424.80" stroke="#333" stroke-width="3"/>
<text x="771.6" y="433.40" font-size="23" text-anchor="end">0.00</text>
<line x1="775.8" x2="778.9" y1="332.85" y2="332.85" stroke="#333" stroke-width="3"/>
<text x="771.6" y="341.45" font-size="23" text-anchor="end">0.25</text>
<line x1="775.8" x2="778.9" y1="240.90" y2="240.90" stroke="#333" stroke-width="3"/>
<text x="771.6" y="249.50" font-size="23" text-anchor="end">0.50</text>
<line x1="775.8" x2="778.9" y1="148.95" y2="148.95" stroke="#333" stroke-width="3"/>
<text x="771.6" y="157.55" font-size="23" text-anchor="end">0.75</text>
<line x1="775.8" x2="778.9" y1="57.00" y2="57.00" stroke="#333" stroke-width="3"/>
<text x="771.6" y="65.60" font-size="23" text-anchor="end">1.00</text>
<line x1="817.20" x2="817.20" y1="444.8" y2="447.9" stroke="#333" stroke-width="3"/>
<text x="817.20" y="468.8" font-size="23" text-anchor="middle">G0</text>
<line x1="879.70" x2="879.70" y1="444.8" y2="447.9" stroke="#333" stroke-width="3"/>
<text x="879.70" y="468.8" font-size="23" text-anchor="middle">F1</text>
<line x1="942.20" x2="942.20" y1="444.8" y2="447.9" stroke="#333" stroke-width="3"/>
<text x="942.20" y="468.8" font-size="23" text-anchor="middle">F2</text>
<line x1="1004.50" x2="1004.50" y1="444.8" y2="447.9" stroke="#333" stroke-width="3"/>
<text x="1004.50" y="468.8" font-size="23" text-anchor="middle">F3</text>
<line x1="1066.90" x2="1066.90" y1="444.8" y2="447.9" stroke="#333" stroke-width="3"/>
<text x="1066.90" y="468.8" font-size="23" text-anchor="middle">F4</text>
<text x="942.2" y="497.6" font-size="26.85" text-anchor="middle">Generation</text>
<text transform="translate(715.6 240.8) rotate(-90)" font-size="27" text-anchor="middle">Weighted Proportion</text>
<text x="653" y="65.3" font-size="42" class="tag">B</text>
<text x="817.4" y="16.4" font-size="19.4" text-anchor="end">MB:</text>
<text x="817.4" y="38.4" font-size="19.4" text-anchor="end">FB:</text>
<text x="847" y="28" font-size="34" text-anchor="middle" class="st">****</text>
<text x="910.7" y="28" font-size="34" text-anchor="middle" class="st">***</text>
<text x="974" y="28" font-size="34" text-anchor="middle" class="st">****</text>
<text x="910.5" y="49" font-size="34" text-anchor="middle" class="st">****</text>
<text x="974" y="49" font-size="34" text-anchor="middle" class="st">****</text>
<line x1="826.0" x2="868.7" y1="43.8" y2="43.8" stroke="#1a1a1a" stroke-width="4"/>
<line x1="889.3" x2="932.0" y1="43.8" y2="43.8" stroke="#1a1a1a" stroke-width="4"/>
<line x1="952.6" x2="995.6" y1="43.8" y2="43.8" stroke="#1a1a1a" stroke-width="4"/>
<text x="1131.8" y="201" font-size="23.4">Bias category</text>
<rect x="1133.3" y="215.10" width="26.5" height="25.4" fill="#4966D9" stroke="#000" stroke-width="1.6"/>
<text x="1170.3" y="235.80" font-size="23.5">Male-biased</text>
<rect x="1133.3" y="243.90" width="26.5" height="25.4" fill="#BEBEBE" stroke="#000" stroke-width="1.6"/>
<text x="1170.3" y="264.60" font-size="23.5">Unbiased</text>
<rect x="1133.3" y="272.70" width="26.5" height="25.4" fill="#ECA42D" stroke="#000" stroke-width="1.6"/>
<text x="1170.3" y="293.40" font-size="23.5">Female-biased</text>
</g>
<g id="panelC">
<path d="M1458.65 109.74 V242.86 M1458.65 353.80 V420.36" stroke="#272727" stroke-width="1.5" fill="none"/>
<path d="M1445.25 353.80 L1445.25 350.69 L1451.95 322.74 L1445.25 294.78 L1445.25 242.86 L1472.05 242.86 L1472.05 294.78 L1465.35 322.74 L1472.05 350.69 L1472.05 353.80 Z" fill="#ECA42D" stroke="#272727" stroke-width="1.5" stroke-linejoin="miter"/>
<line x1="1451.95" x2="1465.35" y1="322.74" y2="322.74" stroke="#272727" stroke-width="3"/>
<circle cx="1458.65" cy="65.36" r="3.3" fill="#000" fill-opacity="0.5" stroke="#000" stroke-opacity="0.5" stroke-width="1.1"/>
<path d="M1488.95 69.80 V171.86 M1488.95 336.05 V420.36" stroke="#272727" stroke-width="1.5" fill="none"/>
<path d="M1475.55 336.05 L1475.55 296.42 L1482.25 256.18 L1475.55 215.93 L1475.55 171.86 L1502.35 171.86 L1502.35 215.93 L1495.65 256.18 L1502.35 296.42 L1502.35 336.05 Z" fill="#4966D9" stroke="#272727" stroke-width="1.5" stroke-linejoin="miter"/>
<line x1="1482.25" x2="1495.65" y1="256.18" y2="256.18" stroke="#272727" stroke-width="3"/>
<path d="M1539.43 256.18 V336.05 M1539.43 389.30 V420.36" stroke="#272727" stroke-width="1.5" fill="none"/>
<path d="M1526.03 389.30 L1526.03 370.44 L1532.73 362.68 L1526.03 354.91 L1526.03 336.05 L1552.83 336.05 L1552.83 354.91 L1546.13 362.68 L1552.83 370.44 L1552.83 389.30 Z" fill="#ECA42D" stroke="#272727" stroke-width="1.5" stroke-linejoin="miter"/>
<line x1="1532.73" x2="1546.13" y1="362.68" y2="362.68" stroke="#272727" stroke-width="3"/>
<circle cx="1539.43" cy="180.74" r="3.3" fill="#000" fill-opacity="0.5" stroke="#000" stroke-opacity="0.5" stroke-width="1.1"/>
<circle cx="1539.43" cy="171.86" r="3.3" fill="#000" fill-opacity="0.5" stroke="#000" stroke-opacity="0.5" stroke-width="1.1"/>
<circle cx="1539.43" cy="83.11" r="3.3" fill="#000" fill-opacity="0.5" stroke="#000" stroke-opacity="0.5" stroke-width="1.1"/>
<path d="M1569.73 131.93 V278.36 M1569.73 384.86 V424.80" stroke="#272727" stroke-width="1.5" fill="none"/>
<path d="M1556.33 384.86 L1556.33 348.92 L1563.03 331.61 L1556.33 314.31 L1556.33 278.36 L1583.13 278.36 L1583.13 314.31 L1576.43 331.61 L1583.13 348.92 L1583.13 384.86 Z" fill="#4966D9" stroke="#272727" stroke-width="1.5" stroke-linejoin="miter"/>
<line x1="1563.03" x2="1576.43" y1="331.61" y2="331.61" stroke="#272727" stroke-width="3"/>
<circle cx="1569.73" cy="109.74" r="3.3" fill="#000" fill-opacity="0.5" stroke="#000" stroke-opacity="0.5" stroke-width="1.1"/>
<circle cx="1569.73" cy="65.36" r="3.3" fill="#000" fill-opacity="0.5" stroke="#000" stroke-opacity="0.5" stroke-width="1.1"/>
<circle cx="1569.73" cy="56.49" r="3.3" fill="#000" fill-opacity="0.5" stroke="#000" stroke-opacity="0.5" stroke-width="1.1"/>
<path d="M1620.21 340.49 V384.86 M1620.21 415.93 V424.80" stroke="#272727" stroke-width="1.5" fill="none"/>
<path d="M1606.81 415.93 L1606.81 407.05 L1613.51 402.61 L1606.81 398.18 L1606.81 384.86 L1633.61 384.86 L1633.61 398.18 L1626.91 402.61 L1633.61 407.05 L1633.61 415.93 Z" fill="#ECA42D" stroke="#272727" stroke-width="1.5" stroke-linejoin="miter"/>
<line x1="1613.51" x2="1626.91" y1="402.61" y2="402.61" stroke="#272727" stroke-width="3"/>
<circle cx="1620.21" cy="336.05" r="3.3" fill="#000" fill-opacity="0.5" stroke="#000" stroke-opacity="0.5" stroke-width="1.1"/>
<circle cx="1620.21" cy="331.61" r="3.3" fill="#000" fill-opacity="0.5" stroke="#000" stroke-opacity="0.5" stroke-width="1.1"/>
<circle cx="1620.21" cy="327.18" r="3.3" fill="#000" fill-opacity="0.5" stroke="#000" stroke-opacity="0.5" stroke-width="1.1"/>
<circle cx="1620.21" cy="327.18" r="3.3" fill="#000" fill-opacity="0.5" stroke="#000" stroke-opacity="0.5" stroke-width="1.1"/>
<circle cx="1620.21" cy="318.30" r="3.3" fill="#000" fill-opacity="0.5" stroke="#000" stroke-opacity="0.5" stroke-width="1.1"/>
<circle cx="1620.21" cy="318.30" r="3.3" fill="#000" fill-opacity="0.5" stroke="#000" stroke-opacity="0.5" stroke-width="1.1"/>
<circle cx="1620.21" cy="313.86" r="3.3" fill="#000" fill-opacity="0.5" stroke="#000" stroke-opacity="0.5" stroke-width="1.1"/>
<circle cx="1620.21" cy="304.99" r="3.3" fill="#000" fill-opacity="0.5" stroke="#000" stroke-opacity="0.5" stroke-width="1.1"/>
<circle cx="1620.21" cy="296.11" r="3.3" fill="#000" fill-opacity="0.5" stroke="#000" stroke-opacity="0.5" stroke-width="1.1"/>
<circle cx="1620.21" cy="287.24" r="3.3" fill="#000" fill-opacity="0.5" stroke="#000" stroke-opacity="0.5" stroke-width="1.1"/>
<circle cx="1620.21" cy="278.36" r="3.3" fill="#000" fill-opacity="0.5" stroke="#000" stroke-opacity="0.5" stroke-width="1.1"/>
<circle cx="1620.21" cy="269.49" r="3.3" fill="#000" fill-opacity="0.5" stroke="#000" stroke-opacity="0.5" stroke-width="1.1"/>
<circle cx="1620.21" cy="260.61" r="3.3" fill="#000" fill-opacity="0.5" stroke="#000" stroke-opacity="0.5" stroke-width="1.1"/>
<circle cx="1620.21" cy="247.30" r="3.3" fill="#000" fill-opacity="0.5" stroke="#000" stroke-opacity="0.5" stroke-width="1.1"/>
<path d="M1650.51 304.99 V371.55 M1650.51 415.93 V424.80" stroke="#272727" stroke-width="1.5" fill="none"/>
<path d="M1637.11 415.93 L1637.11 403.50 L1643.81 398.18 L1637.11 392.85 L1637.11 371.55 L1663.91 371.55 L1663.91 392.85 L1657.21 398.18 L1663.91 403.50 L1663.91 415.93 Z" fill="#4966D9" stroke="#272727" stroke-width="1.5" stroke-linejoin="miter"/>
<line x1="1643.81" x2="1657.21" y1="398.18" y2="398.18" stroke="#272727" stroke-width="3"/>
<circle cx="1650.51" cy="300.55" r="3.3" fill="#000" fill-opacity="0.5" stroke="#000" stroke-opacity="0.5" stroke-width="1.1"/>
<circle cx="1650.51" cy="291.68" r="3.3" fill="#000" fill-opacity="0.5" stroke="#000" stroke-opacity="0.5" stroke-width="1.1"/>
<circle cx="1650.51" cy="287.24" r="3.3" fill="#000" fill-opacity="0.5" stroke="#000" stroke-opacity="0.5" stroke-width="1.1"/>
<circle cx="1650.51" cy="282.80" r="3.3" fill="#000" fill-opacity="0.5" stroke="#000" stroke-opacity="0.5" stroke-width="1.1"/>
<circle cx="1650.51" cy="269.49" r="3.3" fill="#000" fill-opacity="0.5" stroke="#000" stroke-opacity="0.5" stroke-width="1.1"/>
<circle cx="1650.51" cy="220.68" r="3.3" fill="#000" fill-opacity="0.5" stroke="#000" stroke-opacity="0.5" stroke-width="1.1"/>
<circle cx="1650.51" cy="220.68" r="3.3" fill="#000" fill-opacity="0.5" stroke="#000" stroke-opacity="0.5" stroke-width="1.1"/>
<circle cx="1650.51" cy="202.93" r="3.3" fill="#000" fill-opacity="0.5" stroke="#000" stroke-opacity="0.5" stroke-width="1.1"/>
<circle cx="1650.51" cy="194.05" r="3.3" fill="#000" fill-opacity="0.5" stroke="#000" stroke-opacity="0.5" stroke-width="1.1"/>
<circle cx="1650.51" cy="185.18" r="3.3" fill="#000" fill-opacity="0.5" stroke="#000" stroke-opacity="0.5" stroke-width="1.1"/>
<path d="M1700.99 322.74 V371.55 M1700.99 413.71 V424.80" stroke="#272727" stroke-width="1.5" fill="none"/>
<path d="M1687.59 413.71 L1687.59 413.26 L1694.29 402.61 L1687.59 391.96 L1687.59 371.55 L1714.39 371.55 L1714.39 391.96 L1707.69 402.61 L1714.39 413.26 L1714.39 413.71 Z" fill="#ECA42D" stroke="#272727" stroke-width="1.5" stroke-linejoin="miter"/>
<line x1="1694.29" x2="1707.69" y1="402.61" y2="402.61" stroke="#272727" stroke-width="3"/>
<circle cx="1700.99" cy="300.55" r="3.3" fill="#000" fill-opacity="0.5" stroke="#000" stroke-opacity="0.5" stroke-width="1.1"/>
<circle cx="1700.99" cy="300.55" r="3.3" fill="#000" fill-opacity="0.5" stroke="#000" stroke-opacity="0.5" stroke-width="1.1"/>
<circle cx="1700.99" cy="287.24" r="3.3" fill="#000" fill-opacity="0.5" stroke="#000" stroke-opacity="0.5" stroke-width="1.1"/>
<circle cx="1700.99" cy="282.80" r="3.3" fill="#000" fill-opacity="0.5" stroke="#000" stroke-opacity="0.5" stroke-width="1.1"/>
<circle cx="1700.99" cy="282.80" r="3.3" fill="#000" fill-opacity="0.5" stroke="#000" stroke-opacity="0.5" stroke-width="1.1"/>
<circle cx="1700.99" cy="269.49" r="3.3" fill="#000" fill-opacity="0.5" stroke="#000" stroke-opacity="0.5" stroke-width="1.1"/>
<path d="M1731.29 340.49 V382.64 M1731.29 415.93 V424.80" stroke="#272727" stroke-width="1.5" fill="none"/>
<path d="M1717.89 415.93 L1717.89 412.82 L1724.59 407.05 L1717.89 401.28 L1717.89 382.64 L1744.69 382.64 L1744.69 401.28 L1737.99 407.05 L1744.69 412.82 L1744.69 415.93 Z" fill="#4966D9" stroke="#272727" stroke-width="1.5" stroke-linejoin="miter"/>
<line x1="1724.59" x2="1737.99" y1="407.05" y2="407.05" stroke="#272727" stroke-width="3"/>
<circle cx="1731.29" cy="313.86" r="3.3" fill="#000" fill-opacity="0.5" stroke="#000" stroke-opacity="0.5" stroke-width="1.1"/>
<circle cx="1731.29" cy="309.43" r="3.3" fill="#000" fill-opacity="0.5" stroke="#000" stroke-opacity="0.5" stroke-width="1.1"/>
<circle cx="1731.29" cy="291.68" r="3.3" fill="#000" fill-opacity="0.5" stroke="#000" stroke-opacity="0.5" stroke-width="1.1"/>
<circle cx="1731.29" cy="287.24" r="3.3" fill="#000" fill-opacity="0.5" stroke="#000" stroke-opacity="0.5" stroke-width="1.1"/>
<circle cx="1731.29" cy="207.36" r="3.3" fill="#000" fill-opacity="0.5" stroke="#000" stroke-opacity="0.5" stroke-width="1.1"/>
<path d="M1781.77 265.05 V336.05 M1781.77 398.18 V424.80" stroke="#272727" stroke-width="1.5" fill="none"/>
<path d="M1768.37 398.18 L1768.37 383.75 L1775.07 371.55 L1768.37 359.35 L1768.37 336.05 L1795.17 336.05 L1795.17 359.35 L1788.47 371.55 L1795.17 383.75 L1795.17 398.18 Z" fill="#ECA42D" stroke="#272727" stroke-width="1.5" stroke-linejoin="miter"/>
<line x1="1775.07" x2="1788.47" y1="371.55" y2="371.55" stroke="#272727" stroke-width="3"/>
<path d="M1812.07 296.11 V358.24 M1812.07 402.61 V424.80" stroke="#272727" stroke-width="1.5" fill="none"/>
<path d="M1798.67 402.61 L1798.67 390.85 L1805.37 380.43 L1798.67 370.00 L1798.67 358.24 L1825.47 358.24 L1825.47 370.00 L1818.77 380.43 L1825.47 390.85 L1825.47 402.61 Z" fill="#4966D9" stroke="#272727" stroke-width="1.5" stroke-linejoin="miter"/>
<line x1="1805.37" x2="1818.77" y1="380.43" y2="380.43" stroke="#272727" stroke-width="3"/>
<circle cx="1812.07" cy="282.80" r="3.3" fill="#000" fill-opacity="0.5" stroke="#000" stroke-opacity="0.5" stroke-width="1.1"/>
<line x1="1425.6" x2="1425.6" y1="38.2" y2="443.3" stroke="#000" stroke-width="3.2"/><line x1="1425.6" x2="1845.3" y1="443.3" y2="443.3" stroke="#000" stroke-width="3.1"/>
<line x1="1421.2" x2="1424.3" y1="424.80" y2="424.80" stroke="#333" stroke-width="3"/>
<text x="1416.3" y="433.40" font-size="23" text-anchor="end">0</text>
<line x1="1421.2" x2="1424.3" y1="336.05" y2="336.05" stroke="#333" stroke-width="3"/>
<text x="1416.3" y="344.65" font-size="23" text-anchor="end">20</text>
<line x1="1421.2" x2="1424.3" y1="247.30" y2="247.30" stroke="#333" stroke-width="3"/>
<text x="1416.3" y="255.90" font-size="23" text-anchor="end">40</text>
<line x1="1421.2" x2="1424.3" y1="158.55" y2="158.55" stroke="#333" stroke-width="3"/>
<text x="1416.3" y="167.15" font-size="23" text-anchor="end">60</text>
<line x1="1421.2" x2="1424.3" y1="69.80" y2="69.80" stroke="#333" stroke-width="3"/>
<text x="1416.3" y="78.40" font-size="23" text-anchor="end">80</text>
<line x1="1473.80" x2="1473.80" y1="444.8" y2="447.9" stroke="#333" stroke-width="3"/>
<text x="1473.80" y="468.8" font-size="23" text-anchor="middle">G0</text>
<line x1="1554.58" x2="1554.58" y1="444.8" y2="447.9" stroke="#333" stroke-width="3"/>
<text x="1554.58" y="468.8" font-size="23" text-anchor="middle">F1</text>
<line x1="1635.36" x2="1635.36" y1="444.8" y2="447.9" stroke="#333" stroke-width="3"/>
<text x="1635.36" y="468.8" font-size="23" text-anchor="middle">F2</text>
<line x1="1716.14" x2="1716.14" y1="444.8" y2="447.9" stroke="#333" stroke-width="3"/>
<text x="1716.14" y="468.8" font-size="23" text-anchor="middle">F3</text>
<line x1="1796.92" x2="1796.92" y1="444.8" y2="447.9" stroke="#333" stroke-width="3"/>
<text x="1796.92" y="468.8" font-size="23" text-anchor="middle">F4</text>
<text x="1634.8" y="497.6" font-size="26.85" text-anchor="middle">Generation</text>
<text transform="translate(1380.4 240.6) rotate(-90)" font-size="26.8" text-anchor="middle">Offspring Count</text>
<text x="1320" y="65.5" font-size="42" class="tag">C</text>
<text x="1516.5" y="39.7" font-size="34" text-anchor="middle" class="st">****</text>
<text x="1597.6" y="39.7" font-size="34" text-anchor="middle" class="st">****</text>
<text x="1758.5" y="38.2" font-size="34" text-anchor="middle" class="st">*</text>
<line x1="1484.8" x2="1548.8" y1="33.9" y2="33.9" stroke="#1a1a1a" stroke-width="3.9"/>
<line x1="1566.0" x2="1629.8" y1="33.9" y2="33.9" stroke="#1a1a1a" stroke-width="3.9"/>
<line x1="1726.5" x2="1790.5" y1="33.2" y2="33.2" stroke="#1a1a1a" stroke-width="3.9"/>
<text x="1872.6" y="215.1" font-size="23">sex</text>
<line x1="1886.9" x2="1886.9" y1="230.40" y2="253.80" stroke="#272727" stroke-width="1.5"/>
<rect x="1876.3" y="234.90" width="21.6" height="14.4" fill="#ECA42D" stroke="#272727" stroke-width="1.5"/>
<line x1="1876.3" x2="1897.9" y1="242.10" y2="242.10" stroke="#272727" stroke-width="2.2"/>
<text x="1911" y="250.00" font-size="23">females</text>
<line x1="1886.9" x2="1886.9" y1="259.20" y2="282.60" stroke="#272727" stroke-width="1.5"/>
<rect x="1876.3" y="263.70" width="21.6" height="14.4" fill="#4966D9" stroke="#272727" stroke-width="1.5"/>
<line x1="1876.3" x2="1897.9" y1="270.90" y2="270.90" stroke="#272727" stroke-width="2.2"/>
<text x="1911" y="278.80" font-size="23">males</text>
</g>
</svg>
</body></html>
